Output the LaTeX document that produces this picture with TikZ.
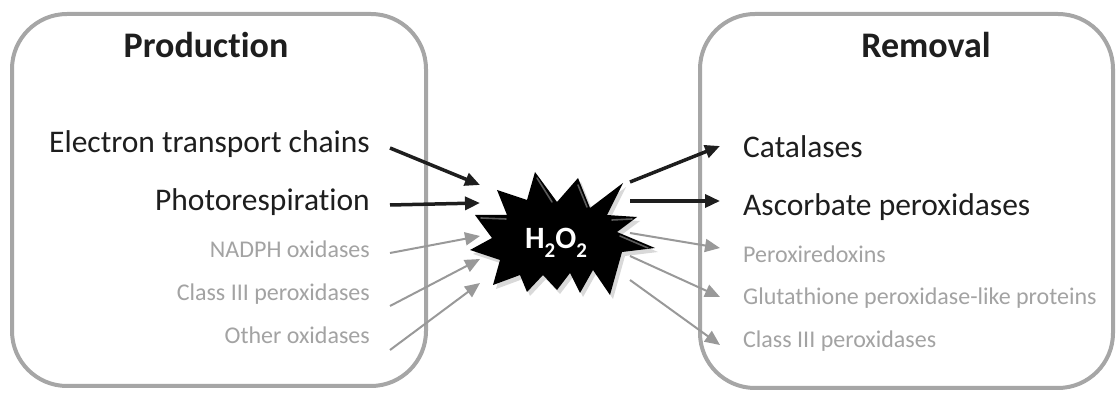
\documentclass[tikz,border=0pt]{standalone}
\usepackage{fontspec}
\setmainfont[Ligatures=NoCommon]{Carlito}
\usetikzlibrary{arrows.meta,shadows}
\definecolor{boxgray}{HTML}{A6A6A6}
\definecolor{txtdark}{HTML}{1E1E1E}
\definecolor{txtgray}{HTML}{A3A3A3}
\definecolor{arrgray}{HTML}{999999}
\begin{document}
\begin{tikzpicture}[x=1pt,y=-1pt,
 box/.style={draw=boxgray,line width=4pt,fill=white,rounded corners=55pt},
 head/.style={font=\fontsize{36}{40}\selectfont\bfseries,text=txtdark,inner sep=0},
 big/.style={font=\fontsize{31.5}{36}\selectfont,text=txtdark,inner sep=0},
 small/.style={font=\fontsize{24}{28}\selectfont,text=txtgray,inner sep=0},
 darr/.style={draw=txtdark,line width=3.5pt,-{Triangle[length=15pt,width=13pt]}},
 garr/.style={draw=arrgray,line width=2pt,-{Triangle[length=15pt,width=13pt]}},
 starfill/.style={fill=black,drop shadow={shadow xshift=3pt,shadow yshift=-4pt,opacity=0.3}},
 gloss/.style={draw=gray!70,line width=1.6pt,line cap=round,opacity=0.55},
]
\useasboundingbox (0,0) rectangle (1117,395);
\draw[box] (12,14) rectangle (426,386);
\draw[box] (700,14) rectangle (1113,388);

% headings
\node[head,anchor=base] (prod) at (206,58) {Production};
\node[head,anchor=base] (rem) at (926,58) {Removal};

% left texts
\node[big,anchor=base east] (etc) at (370,153) {Electron transport chains};
\node[big,anchor=base east] (pr) at (370,211) {Photorespiration};
\node[small,anchor=base east] (nadph) at (370,258) {NADPH oxidases};
\node[small,anchor=base east] (c3l) at (370,301) {Class III peroxidases};
\node[small,anchor=base east] (oth) at (370,344) {Other oxidases};

% right texts
\node[big,anchor=base west] (cat) at (743,158) {Catalases};
\node[big,anchor=base west] (apx) at (743,216) {Ascorbate peroxidases};
\node[small,anchor=base west] (prx) at (743,263) {Peroxiredoxins};
\node[small,anchor=base west] (gpx) at (743,305) {Glutathione peroxidase-like proteins};
\node[small,anchor=base west] (c3r) at (743,348) {Class III peroxidases};

% star
\path[starfill] (535,172) -- (557,202) -- (578,178) -- (590,208) -- (623,183)
 -- (607,215) -- (637,217) -- (617,232) -- (655,248) -- (622,252) -- (610,295)
 -- (593,270) -- (580,293) -- (570,273) -- (557,290) -- (543,275) -- (527,292)
 -- (520,275) -- (493,285) -- (500,260) -- (470,250) -- (492,238) -- (475,215)
 -- (507,215) -- (497,190) -- (527,200) -- cycle;
% gloss highlights
\draw[gloss] (537,178) -- (552,202);
\draw[gloss] (481,218) -- (506,219);
\draw[gloss] (620,236) -- (648,248);
\draw[gloss] (612,220) -- (632,219);
\draw[gloss] (578,185) -- (587,207);
\node[font=\fontsize{31}{34}\selectfont\bfseries,text=white,inner sep=0] (h2o2) at (556,243)
 {H\raisebox{-0.28em}{\fontsize{21}{21}\selectfont 2}O\raisebox{-0.28em}{\fontsize{21}{21}\selectfont 2}};

% arrow end points
\coordinate (s1) at (390,148); \coordinate (t1) at (480,185);
\coordinate (s2) at (390,205); \coordinate (t2) at (480,203);
\coordinate (s3) at (390,253); \coordinate (t3) at (480,236);
\coordinate (s4) at (390,306); \coordinate (t4) at (480,259);
\coordinate (s5) at (390,350); \coordinate (t5) at (480,283);
\coordinate (u1) at (630,182); \coordinate (v1) at (720,146);
\coordinate (u2) at (630,201); \coordinate (v2) at (720,201);
\coordinate (u3) at (630,233); \coordinate (v3) at (720,248);
\coordinate (u4) at (630,256); \coordinate (v4) at (720,297);
\coordinate (u5) at (630,280); \coordinate (v5) at (720,345);

\draw[darr] (s1) -- (t1);
\draw[darr] (s2) -- (t2);
\draw[garr] (s3) -- (t3);
\draw[garr] (s4) -- (t4);
\draw[garr] (s5) -- (t5);
\draw[darr] (u1) -- (v1);
\draw[darr] (u2) -- (v2);
\draw[garr] (u3) -- (v3);
\draw[garr] (u4) -- (v4);
\draw[garr] (u5) -- (v5);
\end{tikzpicture}
\end{document}
